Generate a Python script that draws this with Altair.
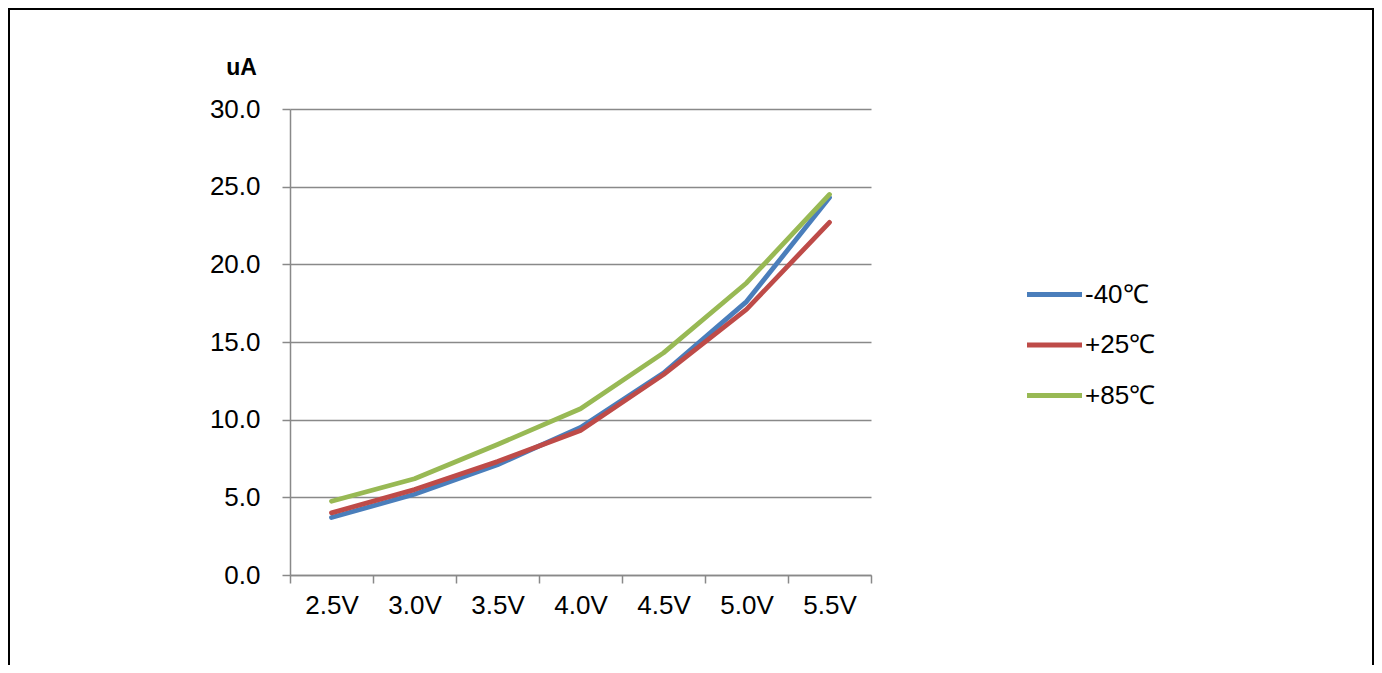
import altair as alt
import pandas as pd

volts = ["2.5V", "3.0V", "3.5V", "4.0V", "4.5V", "5.0V", "5.5V"]
series_names = ["-40℃", "+25℃", "+85℃"]
m40 = [3.7, 5.2, 7.1, 9.5, 13.0, 17.6, 24.3]
p25 = [4.0, 5.5, 7.3, 9.3, 12.9, 17.1, 22.7]
p85 = [4.75, 6.2, 8.4, 10.7, 14.3, 18.8, 24.5]
colors = ["#4A7EBB", "#BE4B48", "#98B954"]
y_ticks = [0, 5, 10, 15, 20, 25, 30]

rows = []
for name, vals in zip(series_names, [m40, p25, p85]):
    for v, val in zip(volts, vals):
        rows.append({"volt": v, "series": name, "value": val})
df = pd.DataFrame(rows)

grid_color = "#898989"
FONT = "Liberation Sans"

lines = alt.Chart(df).mark_line(
    strokeWidth=4.8, strokeCap="round", strokeJoin="round"
).encode(
    x=alt.X(
        "volt:N",
        sort=volts,
        scale=alt.Scale(type="band", paddingInner=0, paddingOuter=0),
        axis=alt.Axis(
            title=None,
            labelAngle=0,
            tickBand="extent",
            labelFontSize=26,
            labelColor="black",
            labelPadding=9,
            tickSize=8,
            tickColor=grid_color,
            tickWidth=1.5,
            domainColor=grid_color,
            domainWidth=1.5,
            grid=False,
        ),
    ),
    y=alt.Y(
        "value:Q",
        scale=alt.Scale(domain=[0, 30], nice=False),
        axis=alt.Axis(
            title="uA",
            titleAngle=0,
            titleFontSize=23,
            titleFontWeight="bold",
            titleColor="black",
            titleAlign="center",
            titleBaseline="middle",
            titleX=-49,
            titleY=-42,
            values=y_ticks,
            format=".1f",
            labelFontSize=26,
            labelColor="black",
            labelPadding=22,
            tickSize=8,
            tickColor=grid_color,
            tickWidth=1.5,
            domainColor=grid_color,
            domainWidth=1.5,
            gridColor=grid_color,
            gridWidth=1.5,
        ),
    ),
    color=alt.Color(
        "series:N",
        scale=alt.Scale(domain=series_names, range=colors),
        legend=alt.Legend(
            title=None,
            orient="none",
            legendX=748,
            legendY=169,
            symbolType="M-2,0H2",
            symbolSize=756.25,
            symbolStrokeWidth=4.8,
            labelFontSize=26,
            labelColor="black",
            labelOffset=14,
            rowPadding=20.5,
            padding=0,
        ),
    ),
)

frame = alt.Chart(pd.DataFrame({"a": [0]})).mark_rect(
    fillOpacity=0, stroke="black", strokeWidth=2
).encode(
    x=alt.value(-281), x2=alt.value(1083), y=alt.value(-100), y2=alt.value(620)
)

chart = alt.layer(lines, frame).properties(
    width=581,
    height=466,
    autosize=alt.AutoSizeParams(type="none"),
    padding={"left": 282, "top": 101, "right": 503, "bottom": 90},
).configure(font=FONT).configure_view(strokeWidth=0)

chart.save("out.html", embed_options={"renderer": "svg", "actions": False})
